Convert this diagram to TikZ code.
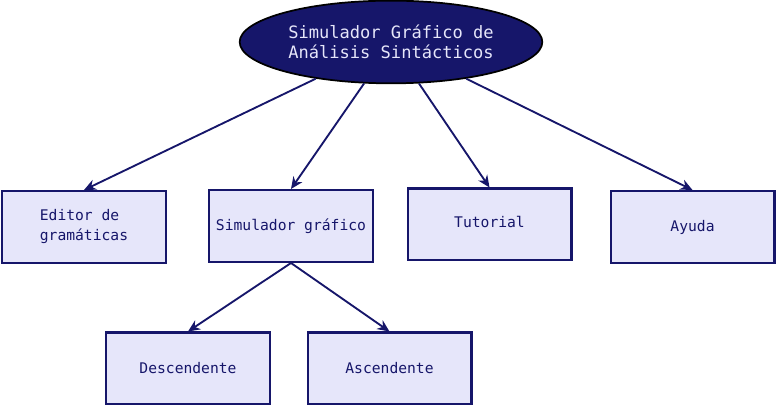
\documentclass[tikz,border=0pt]{standalone}
\usepackage{fontspec}
\newfontfamily\dmono{DejaVu Sans Mono}
\usetikzlibrary{shapes.geometric,arrows.meta}
\definecolor{navy}{HTML}{16166A}
\definecolor{lav}{HTML}{E6E6FA}
\tikzset{
  box/.style={draw=navy, line width=1.6pt, fill=lav, minimum width=122.9pt, minimum height=53.9pt,
    inner sep=0pt, align=left, text=navy, font=\dmono\fontsize{11pt}{15pt}\selectfont},
  topell/.style={ellipse, draw=black, line width=1.3pt, fill=navy, minimum width=227pt, minimum height=62pt,
    inner sep=0pt, align=left, text=lav, font=\dmono\fontsize{12.8pt}{15pt}\selectfont},
  conn/.style={draw=navy, line width=1.4pt, -{Stealth[length=9pt,width=8pt]}}
}
\begin{document}
\begin{tikzpicture}[x=0.75pt,y=-0.75pt]
\useasboundingbox (0,0) rectangle (778,409);
\node[topell] (top) at (391,42) {Simulador Gráfico de\\Análisis Sintácticos};
\node[box] (b1) at (84,227) {\raisebox{3pt}{\begin{tabular}[c]{@{}l@{}}Editor de\\gramáticas\end{tabular}}};
\node[box] (b2) at (291,226) {Simulador gráfico};
\node[box] (b3) at (489.5,224.5) {\raisebox{4pt}{Tutorial}};
\node[box] (b4) at (692.5,227) {Ayuda};
\node[box] (b5) at (188,368.5) {Descendente};
\node[box] (b6) at (389.5,368.5) {Ascendente};
\draw[conn] (top.206) -- (b1.north);
\draw[conn] (top.237) -- (b2.north);
\draw[conn] (top.304) -- (b3.north);
\draw[conn] (top.334) -- (b4.north);
\draw[conn] (b2.south) -- (b5.north);
\draw[conn] (b2.south) -- (b6.north);
\end{tikzpicture}
\end{document}
